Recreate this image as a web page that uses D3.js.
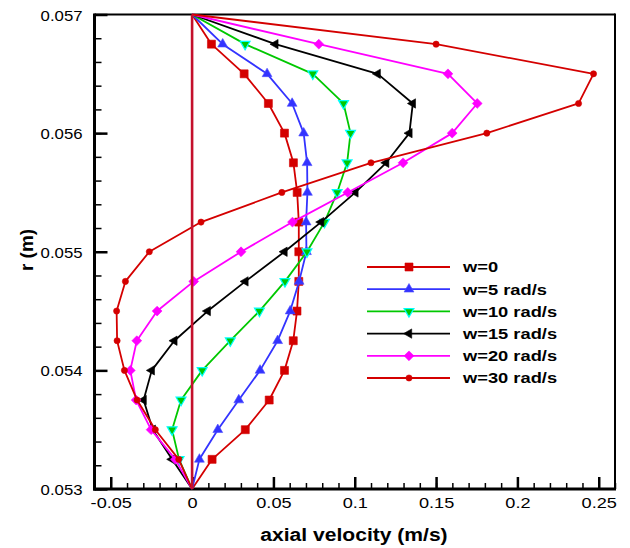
<!DOCTYPE html>
<html>
<head>
<meta charset="utf-8">
<script src="https://cdn.jsdelivr.net/npm/d3@7"></script>
<style>
  html, body { margin: 0; padding: 0; background: #fff; }
  svg { display: block; }
  text { font-family: "Liberation Sans", Arial, Helvetica, sans-serif; }
</style>
</head>
<body>
<div id="chart"></div>
<script>
// ---- data ----
const radius = [0.057, 0.05675, 0.0565, 0.05625, 0.056, 0.05575, 0.0555, 0.05525, 0.055,
                0.05475, 0.0545, 0.05425, 0.054, 0.05375, 0.0535, 0.05325, 0.053];
const w0  = [0, 0.0119, 0.0320, 0.0469, 0.0568, 0.0623, 0.0646, 0.0656, 0.0656, 0.0656, 0.0645, 0.0622, 0.0568, 0.0474, 0.0327, 0.0123, 0];
const w5  = [0, 0.0188, 0.0461, 0.0615, 0.0686, 0.0707, 0.0709, 0.0701, 0.0703, 0.0658, 0.0603, 0.0526, 0.0418, 0.0287, 0.0158, 0.0045, 0];
const w10 = [0, 0.0326, 0.0742, 0.0931, 0.0974, 0.0953, 0.0892, 0.0814, 0.0706, 0.0571, 0.0414, 0.0235, 0.0062, -0.0068, -0.0123, -0.0080, 0];
const w15 = [0, 0.0512, 0.1141, 0.1357, 0.1336, 0.1193, 0.1004, 0.0793, 0.0568, 0.0328, 0.0096, -0.0109, -0.0248, -0.0298, -0.0242, -0.0123, 0];
const w20 = [0, 0.0779, 0.1573, 0.1753, 0.1599, 0.1297, 0.0957, 0.0617, 0.0301, 0.0010, -0.0215, -0.0340, -0.0380, -0.0344, -0.0252, -0.0103, 0];
const w30 = [0, 0.1500, 0.2468, 0.2376, 0.1812, 0.1100, 0.0552, 0.0055, -0.0263, -0.0410, -0.0464, -0.0461, -0.0416, -0.0338, -0.0226, -0.0082, 0];
const seriesNames = ["w=0", "w=5 rad/s", "w=10 rad/s", "w=15 rad/s", "w=20 rad/s", "w=30 rad/s"];
const xTicks = [-0.05, 0, 0.05, 0.1, 0.15, 0.2, 0.25];
const xTickLabels = ["-0.05", "0", "0.05", "0.1", "0.15", "0.2", "0.25"];
const yTicks = [0.053, 0.054, 0.055, 0.056, 0.057];
const yTickLabels = ["0.053", "0.054", "0.055", "0.056", "0.057"];
const xDomain = [-0.06, 0.26];
const yDomain = [0.053, 0.057];
const xLabel = "axial velocity (m/s)";
const yLabel = "r (m)";

// ---- styles ----
const styles = [
  {color: "#d40000", stroke: "#d40000", marker: "square"},
  {color: "#3333ff", stroke: "#4d4dff", marker: "up"},
  {color: "#00c800", stroke: "#00ffff", marker: "down"},
  {color: "#000000", stroke: "#000000", marker: "left"},
  {color: "#ff00ff", stroke: "#ff00ff", marker: "diamond"},
  {color: "#d40000", stroke: "#d40000", marker: "circle"}
];
const allSeries = [w0, w5, w10, w15, w20, w30];

const W = 630, H = 548;
const margin = {left: 94.5, right: 15, top: 14.5, bottom: 59};
const svg = d3.select("#chart").append("svg").attr("width", W).attr("height", H);

const x = d3.scaleLinear().domain(xDomain).range([margin.left, W - margin.right]);
const y = d3.scaleLinear().domain(yDomain).range([H - margin.bottom, margin.top]);

const TS = 1.17; // horizontal text stretch
function stretch(sel, k) {
  sel.each(function () {
    const l = this.getComputedTextLength();
    this.setAttribute("textLength", l * k);
    this.setAttribute("lengthAdjust", "spacingAndGlyphs");
  });
}

function markerPath(type) {
  switch (type) {
    case "square": return d3.symbol(d3.symbolSquare, 64)();
    case "up": return d3.symbol(d3.symbolTriangle, 42)();
    case "down": return d3.symbol(d3.symbolTriangle, 42)();
    case "left": return d3.symbol(d3.symbolTriangle, 38)();
    case "diamond": return d3.symbol(d3.symbolSquare, 48)();
    case "circle": return d3.symbol(d3.symbolCircle, 30)();
  }
}
function markerRot(type) {
  return type === "down" ? 180 : type === "left" ? -90 : type === "diamond" ? 45 : 0;
}

// ---- axes ----
const xAxis = d3.axisBottom(x).tickValues(xTicks).tickFormat((d, i) => xTickLabels[i]).tickSize(-12).tickPadding(0);
const xMinor = d3.axisBottom(x).tickValues(d3.range(-60, 261, 10).map(v => v / 1000)).tickFormat("").tickSize(-6);
const yAxis = d3.axisLeft(y).tickValues(yTicks).tickFormat((d, i) => yTickLabels[i]).tickSize(-13).tickPadding(0);
const yMinor = d3.axisLeft(y).tickValues(d3.range(5300, 5701, 20).map(v => v / 100000)).tickFormat("").tickSize(-7);

const gxm = svg.append("g").attr("transform", `translate(0,${H - margin.bottom})`).call(xMinor);
gxm.select(".domain").remove();
gxm.selectAll("line").attr("stroke", "#000").attr("stroke-width", 1.5);
const gym = svg.append("g").attr("transform", `translate(${margin.left},0)`).call(yMinor);
gym.select(".domain").remove();
gym.selectAll("line").attr("stroke", "#000").attr("stroke-width", 1.5);

const gx = svg.append("g").attr("transform", `translate(0,${H - margin.bottom})`).call(xAxis);
gx.select(".domain").remove();
gx.selectAll("line").attr("stroke", "#000").attr("stroke-width", 2.5);
gx.selectAll("text").attr("fill", "#000").attr("font-size", 15.5).attr("y", 19).attr("dy", 0);
stretch(gx.selectAll("text"), TS);

const gy = svg.append("g").attr("transform", `translate(${margin.left},0)`).call(yAxis);
gy.select(".domain").remove();
gy.selectAll("line").attr("stroke", "#000").attr("stroke-width", 2.5);
gy.selectAll("text").attr("fill", "#000").attr("font-size", 15.5).attr("x", -12).attr("dy", "0.36em");
stretch(gy.selectAll("text"), 1.08);

// frame
svg.append("line").attr("x1", x.range()[0]).attr("x2", x.range()[1]).attr("y1", margin.top).attr("y2", margin.top)
  .attr("stroke", "#000").attr("stroke-width", 2);
svg.append("line").attr("x1", x.range()[1]).attr("x2", x.range()[1]).attr("y1", margin.top - 1).attr("y2", H - margin.bottom)
  .attr("stroke", "#000").attr("stroke-width", 2);
svg.append("line").attr("x1", x.range()[0]).attr("x2", x.range()[0]).attr("y1", margin.top - 1).attr("y2", H - margin.bottom + 1.5)
  .attr("stroke", "#000").attr("stroke-width", 3);
svg.append("line").attr("x1", x.range()[0] - 1.5).attr("x2", x.range()[1] + 1).attr("y1", H - margin.bottom).attr("y2", H - margin.bottom)
  .attr("stroke", "#000").attr("stroke-width", 3);

// ---- series ----
const line = d3.line().x(d => x(d[0])).y(d => y(d[1]));
allSeries.forEach((vals, si) => {
  const st = styles[si];
  const pts = vals.map((v, i) => [v, radius[i]]);
  const g = svg.append("g");
  g.append("path").datum(pts).attr("d", line).attr("fill", "none")
    .attr("stroke", st.color).attr("stroke-width", 1.8).attr("stroke-linejoin", "round");
  g.selectAll("path.m").data(pts.slice(1, -1)).enter().append("path").attr("class", "m")
    .attr("d", markerPath(st.marker))
    .attr("transform", d => `translate(${x(d[0])},${y(d[1])}) rotate(${markerRot(st.marker)})`)
    .attr("fill", st.color).attr("stroke", st.stroke).attr("stroke-width", st.marker === "down" ? 1.2 : 0.6);
});

// zero line
svg.append("line").attr("x1", x(0)).attr("x2", x(0)).attr("y1", y(yDomain[1])).attr("y2", y(yDomain[0]))
  .attr("stroke", "#c4102c").attr("stroke-width", 2.6);

// ---- legend ----
const leg = svg.append("g");
const legTop = 267, legStep = 22.2;
seriesNames.forEach((name, i) => {
  const st = styles[i];
  const ly = legTop + i * legStep;
  leg.append("line").attr("x1", 367).attr("x2", 450).attr("y1", ly).attr("y2", ly)
    .attr("stroke", st.color).attr("stroke-width", 1.8);
  leg.append("path").attr("d", markerPath(st.marker))
    .attr("transform", `translate(409,${ly}) rotate(${markerRot(st.marker)})`)
    .attr("fill", st.color).attr("stroke", st.stroke).attr("stroke-width", st.marker === "down" ? 1.2 : 0.6);
  const t = leg.append("text").attr("x", 463).attr("y", ly).attr("dy", "0.36em")
    .attr("font-size", 15).attr("font-weight", "bold").attr("fill", "#000").text(name);
  stretch(t, 1.22);
});

// ---- axis titles ----
const xt = svg.append("text").attr("x", 354).attr("y", 541).attr("text-anchor", "middle")
  .attr("font-size", 18).attr("font-weight", "bold").attr("fill", "#000").text(xLabel);
stretch(xt, TS);
svg.append("text").attr("transform", "translate(33,250) rotate(-90)").attr("text-anchor", "middle")
  .attr("font-size", 19).attr("font-weight", "bold").attr("fill", "#000").text(yLabel);
</script>
</body>
</html>
